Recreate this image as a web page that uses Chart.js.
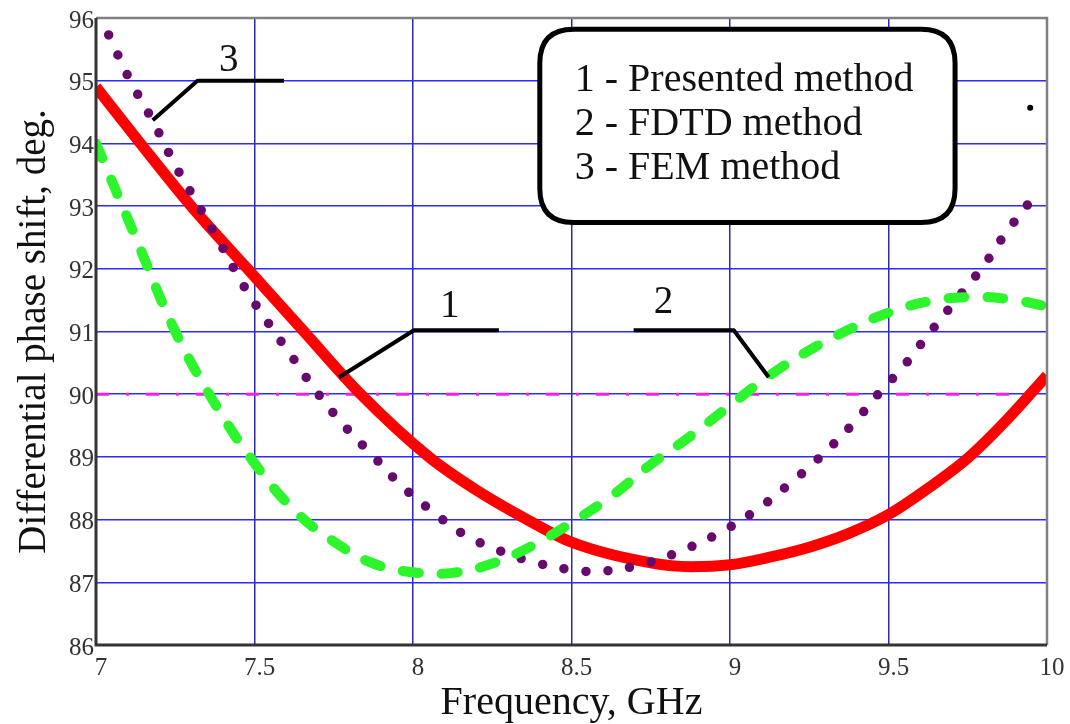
<!DOCTYPE html>
<html lang="en">
<head>
    <meta charset="UTF-8">
    <title>Differential phase shift</title>
    <script src="https://cdn.jsdelivr.net/npm/chart.js"></script>
    <style>
        body { margin: 0; background: #fff; }
        #wrap { width: 1070px; height: 724px; }
    </style>
</head>
<body>
<div id="wrap"><canvas id="phaseChart" width="1070" height="724"></canvas></div>
<script>
    // axis ticks
    const xTicks = [7, 7.5, 8, 8.5, 9, 9.5, 10];
    const xTickLabels = ['7', '7.5', '8', '8.5', '9', '9.5', '10'];
    const yTicks = [86, 87, 88, 89, 90, 91, 92, 93, 94, 95, 96];
    const yTickLabels = ['86', '87', '88', '89', '90', '91', '92', '93', '94', '95', '96'];

    // 1 - presented method (red solid)
    const freqPresented = [7.0, 7.14, 7.30, 7.478, 7.656, 7.835, 8.05, 8.2, 8.36, 8.5, 8.75, 8.875, 9.0, 9.125, 9.25, 9.375, 9.5, 9.625, 9.75, 9.875, 10.0];
    const presented = [94.9, 94.0, 93.0, 92.0, 91.0, 90.0, 89.0, 88.47, 88.0, 87.64, 87.31, 87.25, 87.28, 87.4, 87.56, 87.78, 88.08, 88.5, 88.98, 89.6, 90.3];

    // 2 - FDTD method (green dashed)
    const freqFdtd = [7.0, 7.125, 7.25, 7.375, 7.5, 7.625, 7.75, 7.875, 8.0, 8.125, 8.25, 8.375, 8.5, 8.625, 8.75, 8.875, 9.0, 9.125, 9.25, 9.375, 9.5, 9.625, 9.75, 9.875, 10.0];
    const fdtd = [94.0, 92.5, 91.0, 89.85, 88.9, 88.15, 87.65, 87.3, 87.16, 87.15, 87.3, 87.58, 87.95, 88.37, 88.88, 89.33, 89.82, 90.3, 90.7, 91.03, 91.3, 91.48, 91.55, 91.52, 91.4];

    // 3 - FEM method (purple dots)
    const freqFem = [7.04, 7.105, 7.18, 7.25, 7.32, 7.39, 7.467, 7.54, 7.618, 7.70, 7.79, 7.877, 7.966, 8.066, 8.155, 8.27, 8.397, 8.534, 8.607, 8.733, 8.85, 8.964, 9.08, 9.178, 9.27, 9.39, 9.474, 9.545, 9.624, 9.70, 9.8, 9.87, 9.957];
    const fem = [95.73, 95.03, 94.35, 93.65, 93.04, 92.42, 91.72, 91.16, 90.6, 90.01, 89.46, 89.0, 88.53, 88.11, 87.78, 87.51, 87.30, 87.18, 87.18, 87.30, 87.51, 87.78, 88.14, 88.53, 88.93, 89.54, 90.04, 90.43, 90.94, 91.42, 92.05, 92.57, 93.14];

    // 90 deg reference level and the stray point at the top right
    const refLevel = 90;
    const strayPoint = [9.947, 94.57];

    // numbered callouts: text position and leader path, in data units
    const callouts = [
        { text: '1', at: [8.116, 91.40], path: [[7.767, 90.27], [8.003, 91.02], [8.271, 91.02]] },
        { text: '2', at: [8.79, 91.46], path: [[8.696, 91.02], [9.012, 91.02], [9.122, 90.27]] },
        { text: '3', at: [7.419, 95.32], path: [[7.179, 94.37], [7.32, 95.0], [7.593, 95.0]] }
    ];

    const legendLines = ['1 - Presented method', '2 - FDTD method', '3 - FEM method'];
    const legendBox = { left: 8.4, right: 9.71, top: 95.82, bottom: 92.74 };

    const serif = '"Liberation Serif", "Times New Roman", serif';

    function pts(xs, ys) {
        return xs.map((x, i) => ({ x: x, y: ys[i] }));
    }

    function roundRect(ctx, x, y, w, h, r) {
        ctx.beginPath();
        ctx.moveTo(x + r, y);
        ctx.lineTo(x + w - r, y);
        ctx.quadraticCurveTo(x + w, y, x + w, y + r);
        ctx.lineTo(x + w, y + h - r);
        ctx.quadraticCurveTo(x + w, y + h, x + w - r, y + h);
        ctx.lineTo(x + r, y + h);
        ctx.quadraticCurveTo(x, y + h, x, y + h - r);
        ctx.lineTo(x, y + r);
        ctx.quadraticCurveTo(x, y, x + r, y);
        ctx.closePath();
    }

    const overlay = {
        id: 'overlay',
        afterDatasetsDraw(chart) {
            const ctx = chart.ctx;
            const xs = chart.scales.x, ys = chart.scales.y;
            const a = chart.chartArea;
            const px = v => xs.getPixelForValue(v);
            const py = v => ys.getPixelForValue(v);
            ctx.save();

            // frame: grey top/right, black left/bottom
            ctx.lineWidth = 2.5;
            ctx.strokeStyle = '#808080';
            ctx.beginPath();
            ctx.moveTo(a.left, a.top);
            ctx.lineTo(a.right, a.top);
            ctx.lineTo(a.right, a.bottom);
            ctx.stroke();
            ctx.lineWidth = 3;
            ctx.strokeStyle = '#333';
            ctx.beginPath();
            ctx.moveTo(a.left, a.top);
            ctx.lineTo(a.left, a.bottom);
            ctx.lineTo(a.right, a.bottom);
            ctx.stroke();

            // callouts
            ctx.strokeStyle = '#000';
            ctx.lineWidth = 4;
            ctx.lineJoin = 'round';
            ctx.fillStyle = '#111';
            ctx.font = '39px ' + serif;
            ctx.textAlign = 'center';
            ctx.textBaseline = 'middle';
            callouts.forEach(c => {
                ctx.beginPath();
                c.path.forEach((p, i) => {
                    if (i === 0) ctx.moveTo(px(p[0]), py(p[1]));
                    else ctx.lineTo(px(p[0]), py(p[1]));
                });
                ctx.stroke();
                ctx.fillText(c.text, px(c.at[0]), py(c.at[1]));
            });

            // legend box
            const bx = px(legendBox.left), by = py(legendBox.top);
            const bw = px(legendBox.right) - bx, bh = py(legendBox.bottom) - by;
            roundRect(ctx, bx, by, bw, bh, 34);
            ctx.fillStyle = '#fff';
            ctx.fill();
            ctx.lineWidth = 5;
            ctx.strokeStyle = '#000';
            ctx.stroke();
            ctx.fillStyle = '#111';
            ctx.font = '40px ' + serif;
            ctx.textAlign = 'left';
            ctx.textBaseline = 'alphabetic';
            legendLines.forEach((t, i) => {
                ctx.fillText(t, bx + 35, by + 62 + i * 44);
            });

            ctx.restore();
        }
    };

    new Chart(document.getElementById('phaseChart'), {
        type: 'line',
        data: {
            datasets: [
                {
                    label: '2 - FDTD method',
                    data: pts(freqFdtd, fdtd),
                    borderColor: '#2cf52c',
                    borderWidth: 10,
                    borderDash: [16, 23],
                    borderCapStyle: 'round',
                    pointRadius: 0,
                    tension: 0.4,
                    order: 0
                },
                {
                    label: '3 - FEM method',
                    data: pts(freqFem, fem),
                    borderColor: '#660a6e',
                    borderWidth: 9.5,
                    borderDash: [0, 22],
                    borderCapStyle: 'round',
                    pointRadius: 0,
                    tension: 0.4,
                    order: 1
                },
                {
                    label: '1 - Presented method',
                    data: pts(freqPresented, presented),
                    borderColor: '#ff0000',
                    borderWidth: 11,
                    pointRadius: 0,
                    cubicInterpolationMode: 'monotone',
                    order: 2
                },
                {
                    label: 'level',
                    data: [{ x: xTicks[0], y: refLevel }, { x: xTicks[xTicks.length - 1], y: refLevel }],
                    borderColor: '#ee22ee',
                    borderWidth: 3,
                    borderDash: [13, 17, 3, 17],
                    pointRadius: 0,
                    order: 3
                },
                {
                    label: 'point',
                    data: [{ x: strayPoint[0], y: strayPoint[1] }],
                    showLine: false,
                    pointRadius: 3,
                    pointBackgroundColor: '#000',
                    pointBorderWidth: 0,
                    order: 0
                }
            ]
        },
        options: {
            responsive: false,
            animation: false,
            layout: { padding: { left: 0, right: 23, top: 18, bottom: 0 } },
            plugins: { legend: { display: false }, tooltip: { enabled: false } },
            scales: {
                x: {
                    type: 'linear',
                    min: 7,
                    max: 10,
                    afterBuildTicks: s => { s.ticks = xTicks.map(v => ({ value: v })); },
                    afterFit: s => { s.height = 79; },
                    grid: { color: '#2a2ab0', lineWidth: 1.5, drawTicks: false },
                    border: { display: false },
                    ticks: {
                        callback: (v, i) => xTickLabels[i],
                        color: '#333',
                        font: { family: serif, size: 25 },
                        padding: 8,
                        labelOffset: 5,
                        maxRotation: 0
                    },
                    title: {
                        display: true,
                        text: 'Frequency, GHz',
                        color: '#111',
                        font: { family: serif, size: 40, lineHeight: 1 },
                        padding: { top: 0, bottom: 1 }
                    }
                },
                y: {
                    min: 86,
                    max: 96,
                    afterBuildTicks: s => { s.ticks = yTicks.map(v => ({ value: v })); },
                    afterFit: s => { s.width = 96; },
                    grid: { color: '#2b2bff', lineWidth: 1.5, drawTicks: false },
                    border: { display: false },
                    ticks: {
                        callback: (v, i) => yTickLabels[i],
                        color: '#333',
                        font: { family: serif, size: 25 },
                        padding: 2,
                        labelOffset: 3
                    },
                    title: {
                        display: true,
                        text: 'Differential phase shift, deg.',
                        color: '#111',
                        font: { family: serif, size: 39, lineHeight: 1 },
                        padding: { top: 15, bottom: 0 }
                    }
                }
            }
        },
        plugins: [overlay]
    });
</script>
</body>
</html>
